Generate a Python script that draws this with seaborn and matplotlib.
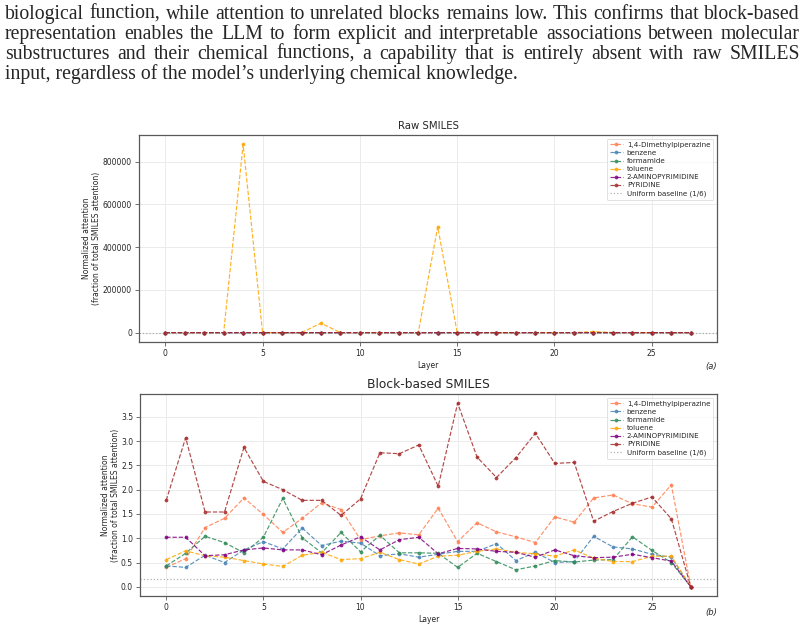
import numpy as np
import pandas as pd
import matplotlib
matplotlib.use("Agg")
import matplotlib.pyplot as plt
import seaborn as sns

# ---------------- data ----------------
layers = list(range(28))
molecules = ["1,4-Dimethylpiperazine", "benzene", "formamide", "toluene",
             "2-AMINOPYRIMIDINE", "PYRIDINE"]
colors = ["coral", "steelblue", "seagreen", "orange", "purple", "brown"]

raw_dimethyl = [0.4, 0.6, 1.2, 1.4, 1.8, 1.5, 1.1, 1.4, 1.7, 1.6, 1.0, 1.1, 1.1, 1.1,
                1.6, 0.9, 1.3, 1.1, 1.0, 0.9, 1.4, 1.3, 1.8, 1.9, 1.7, 1.6, 2.1, 0.0]
raw_benzene = [0.4, 0.4, 0.6, 0.5, 0.8, 0.9, 0.8, 1.2, 0.9, 0.9, 0.9, 0.6, 0.7, 0.6,
               0.7, 0.7, 0.7, 0.9, 0.5, 0.7, 0.5, 0.5, 1.0, 0.8, 0.8, 0.7, 0.6, 0.0]
raw_formamide = [0.4, 0.7, 1.0, 0.9, 0.7, 1.0, 1.8, 1.0, 0.7, 1.1, 0.7, 1.1, 0.7, 0.7,
                 0.7, 0.4, 0.7, 0.5, 0.4, 0.4, 0.5, 0.5, 0.6, 0.6, 1.0, 0.8, 0.5, 0.0]
raw_toluene = [0.6, 0.7, 0.6, 0.6, 880000, 0.5, 0.4, 0.7, 44000, 0.6, 0.6, 0.7, 0.6, 0.5,
               495000, 0.7, 0.7, 0.8, 0.7, 0.7, 0.6, 0.8, 5000, 0.5, 0.5, 0.6, 0.6, 0.0]
raw_amino = [1.0, 1.0, 0.6, 0.7, 0.8, 0.8, 0.8, 0.8, 0.7, 0.9, 1.0, 0.8, 1.0, 1.0,
             0.7, 0.8, 0.8, 0.7, 0.7, 0.6, 0.8, 0.6, 0.6, 0.6, 0.7, 0.6, 0.5, 0.0]
raw_pyridine = [1.8, 3.1, 1.5, 1.5, 2.9, 2.2, 2.0, 1.8, 1.8, 1.5, 1.8, 2.8, 2.7, 2.9,
                2.1, 3.8, 2.7, 2.2, 2.7, 3.2, 2.5, 2.6, 1.4, 1.5, 1.7, 1.8, 1.4, 0.0]

blk_dimethyl = [0.40, 0.58, 1.22, 1.41, 1.83, 1.49, 1.12, 1.41, 1.73, 1.59, 0.97, 1.05, 1.11, 1.07,
                1.62, 0.93, 1.32, 1.13, 1.03, 0.91, 1.44, 1.33, 1.83, 1.89, 1.71, 1.64, 2.10, 0.0]
blk_benzene = [0.43, 0.40, 0.65, 0.50, 0.76, 0.93, 0.78, 1.21, 0.85, 0.94, 0.90, 0.64, 0.68, 0.61,
               0.67, 0.73, 0.73, 0.89, 0.54, 0.71, 0.50, 0.52, 1.04, 0.82, 0.78, 0.67, 0.61, 0.0]
blk_formamide = [0.43, 0.69, 1.04, 0.91, 0.70, 1.02, 1.82, 1.01, 0.70, 1.12, 0.72, 1.06, 0.70, 0.70,
                 0.69, 0.40, 0.69, 0.52, 0.35, 0.43, 0.54, 0.51, 0.55, 0.56, 1.03, 0.75, 0.50, 0.0]
blk_toluene = [0.56, 0.74, 0.64, 0.61, 0.54, 0.47, 0.42, 0.65, 0.71, 0.56, 0.58, 0.71, 0.56, 0.47,
               0.63, 0.65, 0.73, 0.78, 0.71, 0.68, 0.63, 0.76, 0.59, 0.52, 0.52, 0.63, 0.63, 0.0]
blk_amino = [1.02, 1.02, 0.64, 0.66, 0.76, 0.80, 0.76, 0.76, 0.66, 0.86, 1.03, 0.76, 0.97, 1.02,
             0.68, 0.79, 0.78, 0.73, 0.71, 0.61, 0.76, 0.64, 0.60, 0.61, 0.67, 0.60, 0.53, 0.0]
blk_pyridine = [1.78, 3.07, 1.54, 1.54, 2.87, 2.17, 2.00, 1.78, 1.78, 1.47, 1.81, 2.76, 2.74, 2.92,
                2.07, 3.78, 2.67, 2.25, 2.66, 3.16, 2.54, 2.56, 1.35, 1.55, 1.72, 1.85, 1.40, 0.0]

raw_series = [raw_dimethyl, raw_benzene, raw_formamide, raw_toluene, raw_amino, raw_pyridine]
blk_series = [blk_dimethyl, blk_benzene, blk_formamide, blk_toluene, blk_amino, blk_pyridine]
baseline = 1 / 6

paragraph = [
    "biological function, while attention to unrelated blocks remains low. This confirms that block-based",
    "representation enables the LLM to form explicit and interpretable associations between molecular",
    "substructures and their chemical functions, a capability that is entirely absent with raw SMILES",
    "input, regardless of the model\u2019s underlying chemical knowledge.",
]

# ---------------- style ----------------
sns.set_style("whitegrid", {"axes.edgecolor": "0.35", "grid.color": "0.92",
                            "xtick.bottom": True, "ytick.left": True})
plt.rcParams["font.family"] = ["DejaVu Sans"]

W, H = 805, 624
fig = plt.figure(figsize=(W / 100, H / 100), dpi=100)

def px_axes(l, t, r, b):
    return fig.add_axes([l / W, 1 - b / H, (r - l) / W, (b - t) / H])

ax1 = px_axes(139, 135, 717, 342)
ax2 = px_axes(140, 394, 717, 596)

def draw(ax, series, title, tsize, lpad):
    for name, col, vals in zip(molecules, colors, series):
        df = pd.DataFrame({"Layer": layers, "v": vals})
        sns.lineplot(data=df, x="Layer", y="v", ax=ax, color=col, marker="o",
                     linestyle="--", linewidth=0.85, markersize=2.3, alpha=0.85,
                     markeredgecolor=col, markeredgewidth=0.4, label=name)
    ax.axhline(baseline, color="gray", linestyle=":", linewidth=0.9, alpha=0.6,
               label="Uniform baseline (1/6)")
    ax.set_title(title, fontsize=tsize, pad=4)
    ax.set_xlabel("Layer", fontsize=5.5, labelpad=2)
    ax.set_ylabel("Normalized attention\n(fraction of total SMILES attention)",
                  fontsize=5.5, labelpad=lpad)
    ax.tick_params(labelsize=5.5, length=3, width=0.6, color="0.35", pad=2)
    ax.set_xticks([0, 5, 10, 15, 20, 25])
    ax.grid(True, color="0.92", linewidth=0.7)
    for s in ax.spines.values():
        s.set_linewidth(0.9)
    leg = ax.legend(loc="upper right", fontsize=5.1, frameon=True,
                    borderpad=0.45, labelspacing=0.3, handlelength=1.8,
                    handletextpad=0.6)
    leg.get_frame().set_linewidth(0.5)

draw(ax1, raw_series, "Raw SMILES", 7.3, 1)
ax1.ticklabel_format(style="plain", axis="y", useOffset=False)
ax1.set_yticks([0, 200000, 400000, 600000, 800000])
draw(ax2, blk_series, "Block-based SMILES", 8.8, 0.5)
ax2.set_yticks([0, 0.5, 1.0, 1.5, 2.0, 2.5, 3.0, 3.5])
ax2.yaxis.set_major_formatter(matplotlib.ticker.FormatStrFormatter("%.1f"))

fig.text(717 / W, 1 - 366 / H, "(a)", fontsize=6, style="italic", ha="right", va="center")
fig.text(717 / W, 1 - 612 / H, "(b)", fontsize=6, style="italic", ha="right", va="center")

# ---------------- justified paragraph ----------------
renderer = fig.canvas.get_renderer()
serif = ["Liberation Serif", "DejaVu Serif"]

def width_px(s, fs):
    t = fig.text(0, 0, s, fontsize=fs, family=serif)
    w = t.get_window_extent(renderer).width
    t.remove()
    return w

fs0 = 10
w4 = width_px(paragraph[3], fs0)
fs = fs0 * 512 / w4
baselines = [19, 39, 59, 79]
x0, x1 = 5, 800
for i, line in enumerate(paragraph):
    ybase = 1 - baselines[i] / H
    if i == len(paragraph) - 1:
        fig.text(x0 / W, ybase, line, fontsize=fs, family=serif, va="baseline", ha="left")
        continue
    words = line.split(" ")
    widths = [width_px(wd, fs) for wd in words]
    gap = (x1 - x0 - sum(widths)) / (len(words) - 1)
    x = x0
    for wd, ww in zip(words, widths):
        fig.text(x / W, ybase, wd, fontsize=fs, family=serif, va="baseline", ha="left")
        x += ww + gap

fig.savefig("out.png", dpi=100)
